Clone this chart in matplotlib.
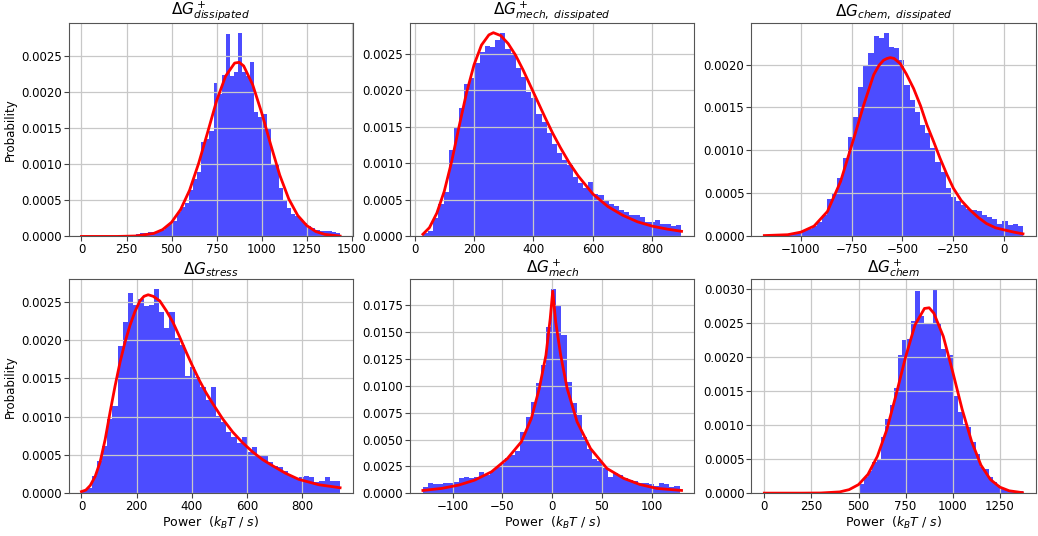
import matplotlib
matplotlib.use('Agg')
import matplotlib.pyplot as plt
from matplotlib.ticker import MultipleLocator
import numpy as np

# --- values ---
# each panel: histogram range, bar heights, and the fitted red curve (x, y)

diss_range = (303, 1434)
diss_heights = [0.000032, 0.000041, 0.000046, 0.000055, 0.00006, 0.000069, 0.000092, 0.000138, 0.000183, 0.000216,
                0.000344, 0.000413, 0.000459, 0.000642, 0.00080, 0.00089, 0.00131, 0.00135, 0.00146, 0.00212,
                0.00197, 0.00224, 0.00280, 0.00222, 0.00227, 0.00282, 0.00227, 0.00222, 0.00241, 0.00172,
                0.00165, 0.00169, 0.00149, 0.00099, 0.00099, 0.00067, 0.00050, 0.00040, 0.00031, 0.00028,
                0.00024, 0.00018, 0.00014, 0.00011, 0.00009, 0.00008, 0.00007, 0.00007, 0.00006, 0.00005]
diss_fit_x = [0, 200, 300, 400, 450, 500, 550, 600, 650, 700, 750, 800, 850, 875, 900, 950,
              1000, 1050, 1100, 1150, 1200, 1250, 1300, 1350, 1435]
diss_fit_y = [0, 0, 0.000006, 0.000041, 0.000094, 0.000196, 0.000372, 0.00064, 0.00101, 0.00144, 0.00188,
              0.00222, 0.0024, 0.00241, 0.00236, 0.0021, 0.00171, 0.00127, 0.00085, 0.00052, 0.00029,
              0.00015, 0.000068, 0.000028, 0.000005]

mech_diss_range = (28, 896)
mech_diss_heights = [0.00005, 0.00008, 0.00025, 0.00044, 0.00061, 0.00118, 0.0015, 0.00176, 0.00209, 0.00217,
                     0.00238, 0.00253, 0.00261, 0.0026, 0.00269, 0.00278, 0.00257, 0.00251, 0.0023, 0.00218,
                     0.00198, 0.00189, 0.00168, 0.00157, 0.00141, 0.00127, 0.00114, 0.00105, 0.00098, 0.00082,
                     0.00073, 0.00066, 0.00075, 0.00058, 0.00057, 0.0005, 0.00045, 0.00041, 0.00036, 0.00034,
                     0.0003, 0.0003, 0.00027, 0.0002, 0.0002, 0.00022, 0.00017, 0.00017, 0.00014, 0.00015]
mech_diss_fit_x = [28, 50, 75, 100, 125, 150, 175, 200, 225, 250, 265, 290, 315, 340, 365, 390, 415, 440,
                   465, 490, 520, 550, 600, 650, 700, 750, 800, 850, 898]
mech_diss_fit_y = [0.00003, 0.00012, 0.00032, 0.00062, 0.00103, 0.00151, 0.00197, 0.00235, 0.00262, 0.00276,
                   0.00279, 0.00275, 0.00264, 0.00248, 0.00228, 0.00206, 0.00184, 0.00162, 0.00141, 0.00122,
                   0.00101, 0.00083, 0.00058, 0.00041, 0.00029, 0.0002, 0.00014, 0.0001, 0.00007]

chem_diss_range = (-1175, 95)
chem_diss_heights = [0.00001, 0.00001, 0.00002, 0.00002, 0.00003, 0.00003, 0.00005, 0.00006, 0.00009, 0.00012,
                     0.00017, 0.00025, 0.00043, 0.0005, 0.00068, 0.00091, 0.00116, 0.00139, 0.00174, 0.00199,
                     0.00213, 0.00233, 0.00231, 0.00237, 0.0022, 0.00219, 0.00205, 0.00176, 0.00159, 0.00145,
                     0.0013, 0.0012, 0.00103, 0.00087, 0.00075, 0.00056, 0.00046, 0.00041, 0.00036, 0.00032,
                     0.00031, 0.00029, 0.00025, 0.00023, 0.0002, 0.00015, 0.00018, 0.00013, 0.00014, 0.00012]
chem_diss_fit_x = [-1180, -1065, -1000, -935, -869, -804, -739, -690, -641, -615, -592, -575, -559, -540,
                   -510, -480, -444, -410, -379, -345, -314, -280, -248, -210, -167, -125, -85, -40, 13, 50, 95]
chem_diss_fit_y = [0.00001, 0.00002, 0.00005, 0.00012, 0.00029, 0.00064, 0.00114, 0.00153, 0.00188, 0.00199,
                   0.00205, 0.00207, 0.00208, 0.00207, 0.00201, 0.00189, 0.00172, 0.00152, 0.0013, 0.0011,
                   0.00091, 0.00072, 0.00056, 0.00042, 0.00031, 0.00022, 0.00015, 0.0001, 0.00007, 0.00005,
                   0.00003]

stress_range = (0, 938)
stress_heights = [0.00003, 0.00007, 0.00023, 0.00042, 0.00062, 0.00097, 0.00114, 0.00192, 0.00223, 0.00261,
                  0.00246, 0.00254, 0.00244, 0.00246, 0.00266, 0.00237, 0.00216, 0.00237, 0.00203, 0.00193,
                  0.00153, 0.00165, 0.00151, 0.00138, 0.00121, 0.00138, 0.00101, 0.00093, 0.0008, 0.00073,
                  0.00065, 0.00073, 0.00054, 0.0006, 0.00049, 0.0005, 0.0004, 0.00036, 0.00034, 0.00029,
                  0.00023, 0.0002, 0.00021, 0.00022, 0.00021, 0.00015, 0.00016, 0.00021, 0.00016, 0.00016]
stress_fit_x = [0, 16, 32, 50, 68, 86, 104, 122, 140, 158, 176, 194, 212, 227, 242, 260, 284, 308, 332,
                356, 380, 404, 428, 452, 476, 512, 548, 584, 620, 656, 692, 740, 788, 860, 938]
stress_fit_y = [0.00002, 0.00004, 0.0001, 0.00022, 0.00041, 0.0007, 0.00106, 0.0014, 0.00171, 0.00197,
                0.00219, 0.00237, 0.00251, 0.00257, 0.00259, 0.00257, 0.00251, 0.00238, 0.00223, 0.00204,
                0.00184, 0.00165, 0.00147, 0.00131, 0.00117, 0.00097, 0.0008, 0.00066, 0.00054, 0.00044,
                0.00036, 0.00026, 0.00018, 0.00011, 0.00007]

mech_range = (-130, 128)
mech_heights = [0.00053, 0.0009, 0.00084, 0.00084, 0.00096, 0.00096, 0.00106, 0.00143, 0.00146, 0.00143,
                0.00152, 0.00193, 0.00168, 0.00205, 0.00246, 0.00277, 0.00329, 0.00354, 0.00392, 0.00572,
                0.00712, 0.00852, 0.01023, 0.01193, 0.01551, 0.01900, 0.01759, 0.01473, 0.01038, 0.00836,
                0.00727, 0.00525, 0.00416, 0.00317, 0.00298, 0.0023, 0.00152, 0.00183, 0.00168, 0.00143,
                0.00121, 0.00112, 0.00099, 0.00099, 0.00081, 0.00068, 0.0009, 0.00081, 0.00053, 0.00068]
mech_fit_x = [-130, -111, -94, -78, -61, -45, -31, -21, -13, -6.3, -2, 0.5, 3.5, 8.5, 15, 25, 38.5,
              55, 72, 88, 105, 130]
mech_fit_y = [0.00025, 0.00044, 0.00075, 0.00121, 0.00199, 0.00323, 0.00479, 0.00696, 0.00976, 0.01287,
              0.01629, 0.01884, 0.01597, 0.01287, 0.00976, 0.00665, 0.00416, 0.0023, 0.00137, 0.00081,
              0.00044, 0.00025]

chem_range = (505, 1373)
chem_heights = [0.00014, 0.00024, 0.00033, 0.00046, 0.0005, 0.00082, 0.00109, 0.0013, 0.00155, 0.00202,
                0.00224, 0.00226, 0.00253, 0.00297, 0.0026, 0.0025, 0.00248, 0.00299, 0.00248, 0.00211,
                0.00199, 0.00203, 0.00143, 0.00119, 0.00102, 0.00097, 0.00075, 0.00058, 0.00038, 0.00036,
                0.00024, 0.00017, 0.00012, 0.00008, 0.00005, 0.00004, 0.00003, 0.00003]
chem_fit_x = [0, 100, 200, 300, 400, 450, 500, 550, 600, 650, 700, 750, 800, 850, 875, 900, 950,
              1000, 1050, 1100, 1150, 1200, 1250, 1300, 1370]
chem_fit_y = [0, 0, 0, 0.000002, 0.000018, 0.000051, 0.000125, 0.000275, 0.00054, 0.00093, 0.00145, 0.002,
              0.00247, 0.00271, 0.00272, 0.00264, 0.0023, 0.00178, 0.00123, 0.00076, 0.00041, 0.0002,
              0.000088, 0.000034, 0.000007]

titles = [r'$\Delta G^+_{dissipated}$', r'$\Delta G^+_{mech,\ dissipated}$', r'$\Delta G_{chem,\ dissipated}$',
          r'$\Delta G_{stress}$', r'$\Delta G^+_{mech}$', r'$\Delta G^+_{chem}$']
xtick_steps = [250, 200, 250, 200, 50, 250]

panels = [
    (diss_range, diss_heights, diss_fit_x, diss_fit_y),
    (mech_diss_range, mech_diss_heights, mech_diss_fit_x, mech_diss_fit_y),
    (chem_diss_range, chem_diss_heights, chem_diss_fit_x, chem_diss_fit_y),
    (stress_range, stress_heights, stress_fit_x, stress_fit_y),
    (mech_range, mech_heights, mech_fit_x, mech_fit_y),
    (chem_range, chem_heights, chem_fit_x, chem_fit_y),
]

fig, axes = plt.subplots(2, 3, figsize=(10.38, 5.36), dpi=100)
fig.subplots_adjust(left=0.066, right=0.998, top=0.958, bottom=0.080, wspace=0.2, hspace=0.2)

for i, (ax, (rng, heights, fx, fy)) in enumerate(zip(axes.flat, panels)):
    edges = np.linspace(rng[0], rng[1], len(heights) + 1)
    centers = 0.5 * (edges[:-1] + edges[1:])
    ax.hist(centers, bins=edges, weights=heights, color='blue', alpha=0.7)
    ax.plot(fx, fy, color='red', lw=2)
    ax.xaxis.set_major_locator(MultipleLocator(xtick_steps[i]))
    ax.grid(True, color='#c8c8c8', lw=0.9)
    ax.set_title(titles[i], fontsize=11, pad=1.5)
    ax.tick_params(labelsize=8.5, color='#444444', pad=1.5)
    for s in ax.spines.values():
        s.set_color('#555555')
    if i % 3 == 0:
        ax.set_ylabel('Probability', fontsize=8.5, labelpad=3)
    if i >= 3:
        ax.set_xlabel(r'Power  $(k_BT\ /\ s)$', fontsize=9, labelpad=1)

plt.savefig('out.png')
